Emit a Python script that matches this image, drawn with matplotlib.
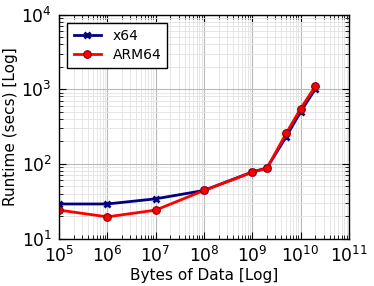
import matplotlib
matplotlib.use("Agg")
import matplotlib.pyplot as plt
from matplotlib.ticker import LogLocator, NullFormatter

sizes = [1e5, 1e6, 1e7, 1e8, 1e9, 2e9, 5e9, 1e10, 2e10]
x64 = [29, 29, 34, 44, 78, 88, 230, 500, 1000]
arm64 = [24, 19.5, 24, 44, 77, 87, 255, 550, 1090]

fig = plt.figure(figsize=(3.74, 2.86), dpi=100)
ax = fig.add_axes([59/374, 1-238.5/286, 290/374, 224/286])

ax.plot(sizes, x64, color='navy', marker='x', markersize=4.5, mew=2, lw=2, label='x64')
ax.plot(sizes, arm64, color='red', marker='o', markersize=5.5, mec='darkred', mew=0.8, lw=2, label='ARM64')

ax.set_xscale('log')
ax.set_yscale('log')
ax.set_xlim(1e5, 1e11)
ax.set_ylim(10, 1e4)
for axis in (ax.xaxis, ax.yaxis):
    axis.set_major_locator(LogLocator(base=10, numticks=20))
    axis.set_minor_locator(LogLocator(base=10, subs=range(2, 10), numticks=100))
    axis.set_minor_formatter(NullFormatter())
ax.grid(True, which='major', color='#b8b8b8', lw=0.8)
ax.grid(True, which='minor', color='#e2e2e2', lw=0.6)
ax.set_axisbelow(True)
ax.tick_params(which='both', direction='in', top=True, right=True, labelsize=12.3)
ax.tick_params(which='major', length=5, pad=5)
ax.tick_params(which='minor', length=3)
ax.set_xlabel('Bytes of Data [Log]', fontsize=11, labelpad=2)
ax.set_ylabel('Runtime (secs) [Log]', fontsize=11, labelpad=2)
for s in ax.spines.values():
    s.set_linewidth(1.0)
leg = ax.legend(loc='upper left', fontsize=10, fancybox=False, framealpha=1,
                edgecolor='black', handlelength=2.0, handletextpad=0.8,
                borderpad=0.45, labelspacing=0.35, borderaxespad=0.6)
leg.get_frame().set_linewidth(1.0)
fig.savefig('out.png', dpi=100)
